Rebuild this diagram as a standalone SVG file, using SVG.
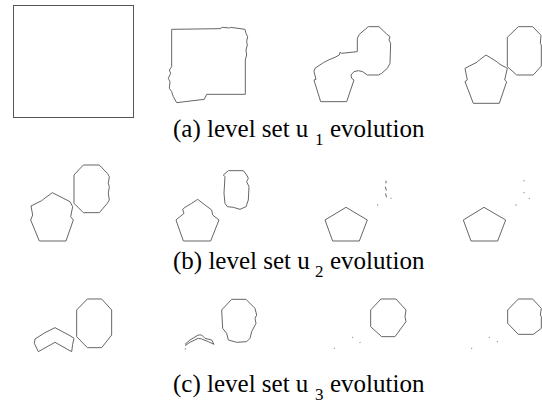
<svg xmlns="http://www.w3.org/2000/svg" width="542" height="404" viewBox="0 0 542 404">
<style>
.s{fill:none;stroke:#666;stroke-width:1;vector-effect:non-scaling-stroke;stroke-linejoin:round}
.d{fill:#888}
.cap{font-family:"Liberation Serif","Times New Roman",serif;font-size:25px;fill:#000}
.sub{font-family:"Liberation Serif","Times New Roman",serif;font-size:17px;fill:#000}
</style>
<rect width="542" height="404" fill="#fff"/>
<!-- row a -->
<rect x="13.5" y="5.5" width="120" height="112" fill="none" stroke="#555" stroke-width="1"/>
<g transform="translate(140,0) scale(0.3333)">
<path class="s" d="M95,88 L240,86 L247,82 L268,84 L272,82 L315,88 L318,100 L323,110 L320,125 L322,135 L318,150 L320,165 L316,180 L316,283 L200,283 L193,298 L110,308 L100,290 L95,275 L88,265 L90,245 L85,235 L92,220 L88,210 L95,200 Z"/>
</g>
<g transform="translate(280,0) scale(0.3333)">
<path class="s" d="M265,80 L297,80 L320,102 L330,110 L327,120 L332,130 L330,190 L322,205 L305,220 L295,225 L262,225 L248,215 L235,212 L222,215 L213,225 L215,235 L222,240 L200,305 L122,305 L105,250 L102,240 L108,238 L102,215 L105,205 L130,188 L150,178 L165,172 L178,165 L180,157 L185,160 L232,155 L232,115 L238,103 Z"/>
</g>
<g transform="translate(410,0) scale(0.3333)">
<path class="s" d="M325,80 L368,80 L393,106 L391,130 L394,135 L394,198 L370,225 L320,225 L292,200 L292,112 Z"/>
<path class="s" d="M228,165 L208,180 L202,186 L165,205 L172,240 L165,245 L190,310 L268,310 L290,245 L284,240 L292,205 L268,192 L262,186 Z"/>
</g>
<!-- row b -->
<g transform="translate(0,150) scale(0.3333)">
<path class="s" d="M250,45 L298,45 L322,70 L328,80 L325,100 L328,110 L325,130 L328,150 L322,160 L298,188 L250,188 L222,160 L222,75 Z"/>
<path class="s" d="M157,128 L130,148 L125,152 L93,168 L98,195 L92,210 L118,273 L198,273 L220,210 L212,200 L218,170 L210,155 Z"/>
</g>
<g transform="translate(140,150) scale(0.3333)">
<path class="s" d="M265,62 L310,62 L320,75 L325,85 L320,95 L327,110 L325,150 L318,170 L300,178 L280,172 L262,170 L255,160 L252,130 L255,80 L250,75 Z"/>
<path class="s" d="M173,148 L155,160 L135,172 L128,178 L132,190 L108,210 L130,273 L212,273 L237,210 L218,195 L215,180 L195,165 Z"/>
</g>
<g transform="translate(280,150) scale(0.3333)">
<path class="s" d="M198,172 L262,210 L238,273 L158,273 L135,210 Z"/>
<path class="s" d="M318,92 L318,100 M316,110 L320,125 M317,130 L320,145" stroke-dasharray="4 4"/>
<circle class="d" cx="293" cy="165" r="2"/><circle class="d" cx="333" cy="145" r="2"/>
</g>
<g transform="translate(410,150) scale(0.3333)">
<path class="s" d="M222,172 L287,210 L263,273 L183,273 L160,210 Z"/>
<circle class="d" cx="342" cy="92" r="2"/><circle class="d" cx="342" cy="128" r="2"/><circle class="d" cx="358" cy="145" r="2"/><circle class="d" cx="318" cy="165" r="2"/>
</g>
<!-- row c -->
<g transform="translate(0,285) scale(0.3333)">
<path class="s" d="M262,42 L305,42 L335,75 L335,150 L305,188 L262,188 L230,155 L230,75 Z"/>
<path class="s" d="M165,128 L135,143 L105,162 L103,175 L115,200 L165,172 L215,200 L218,178 L222,160 L210,152 Z"/>
</g>
<g transform="translate(140,285) scale(0.3333)">
<path class="s" d="M275,43 L318,43 L345,70 L350,90 L345,100 L348,115 L335,140 L330,160 L320,170 L290,172 L265,165 L260,145 L248,130 L245,75 Z"/>
<path class="s" d="M135,178 L150,165 L175,150 L185,150 L195,160 L215,165 L222,178 L205,170 L185,162 L175,160 L150,172 L135,182"/>
<circle class="d" cx="136" cy="192" r="2"/>
</g>
<g transform="translate(280,285) scale(0.3333)">
<path class="s" d="M303,42 L348,42 L378,75 L375,95 L378,110 L345,155 L305,155 L272,125 L272,75 Z"/>
<circle class="d" cx="218" cy="157" r="2"/><circle class="d" cx="240" cy="172" r="2"/><circle class="d" cx="163" cy="190" r="2"/>
</g>
<g transform="translate(410,285) scale(0.3333)">
<path class="s" d="M325,42 L368,42 L394,70 L391,90 L394,95 L394,130 L370,148 L325,148 L293,115 L293,75 Z"/>
<circle class="d" cx="238" cy="157" r="2"/><circle class="d" cx="262" cy="170" r="2"/><circle class="d" cx="185" cy="190" r="2"/>
</g>
<!-- captions -->
<text class="cap" x="173" y="137">(a) level set u</text><text class="sub" x="315" y="145">1</text><text class="cap" x="330" y="137">evolution</text>
<text class="cap" x="173" y="269">(b) level set u</text><text class="sub" x="315" y="277">2</text><text class="cap" x="330" y="269">evolution</text>
<text class="cap" x="173" y="392">(c) level set u</text><text class="sub" x="315" y="400">3</text><text class="cap" x="330" y="392">evolution</text>
</svg>
